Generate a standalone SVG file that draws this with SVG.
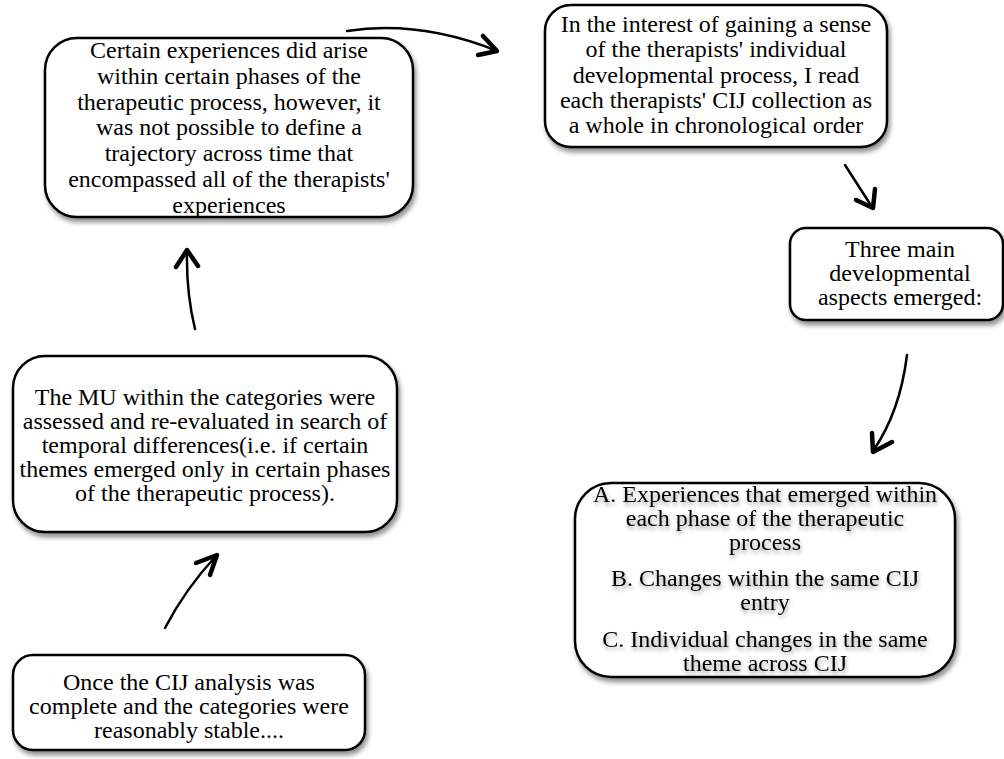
<svg xmlns="http://www.w3.org/2000/svg" width="1004" height="759" viewBox="0 0 1004 759">
<defs>
<filter id="sh" x="-10%" y="-10%" width="125%" height="130%">
<feGaussianBlur in="SourceAlpha" stdDeviation="2.5"/>
<feOffset dx="2" dy="4" result="b"/>
<feComponentTransfer><feFuncA type="linear" slope="0.45"/></feComponentTransfer>
<feMerge><feMergeNode/><feMergeNode in="SourceGraphic"/></feMerge>
</filter>
<filter id="tsh" x="-5%" y="-20%" width="110%" height="150%">
<feGaussianBlur in="SourceAlpha" stdDeviation="2"/>
<feOffset dx="1" dy="3" result="b"/>
<feComponentTransfer><feFuncA type="linear" slope="0.4"/></feComponentTransfer>
<feMerge><feMergeNode/><feMergeNode in="SourceGraphic"/></feMerge>
</filter>
</defs>
<style>
.box{fill:#fff;stroke:#000;stroke-width:2.5;filter:url(#sh)}
.t{font-family:"Liberation Serif","Times New Roman",serif;font-size:24px;fill:#000;text-anchor:middle}
.ln{fill:none;stroke:#000;stroke-width:2.5;stroke-linecap:round}
.hd{fill:none;stroke:#000;stroke-width:4.5;stroke-linecap:round;stroke-linejoin:round}
</style>
<rect width="1004" height="759" fill="#fff"/>
<g id="connectors">
<path class="ln" d="M347,31 Q420,20 497,51"/>
<path class="hd" d="M483,36 L497,51 L478,55"/>
<path class="ln" d="M845,165 L872,207"/>
<path class="hd" d="M875,189 L873,208 L856,200"/>
<path class="ln" d="M907,355 Q900,412 873,451"/>
<path class="hd" d="M872,433 L873,452 L892,442"/>
<path class="ln" d="M195,329 Q186,292 187,250"/>
<path class="hd" d="M176,267 L187,250 L198,266"/>
<path class="ln" d="M165,628 Q186,588 216,556"/>
<path class="hd" d="M196,563 L217,555 L210,575"/>
</g>
<g id="node-certain">
<rect class="box" x="45" y="38" width="368" height="179" rx="32"/>
<text class="t"><tspan x="229" y="58">Certain experiences did arise</tspan><tspan x="229" y="84">within certain phases of the</tspan><tspan x="229" y="110">therapeutic process, however, it</tspan><tspan x="229" y="135">was not possible to define a</tspan><tspan x="229" y="161">trajectory across time that</tspan><tspan x="229" y="187">encompassed all of the therapists'</tspan><tspan x="229" y="213">experiences</tspan></text>
</g>
<g id="node-interest">
<rect class="box" x="545" y="5" width="342" height="142" rx="26"/>
<text class="t"><tspan x="716" y="32">In the interest of gaining a sense</tspan><tspan x="716" y="57">of the therapists' individual</tspan><tspan x="716" y="83">developmental process, I read</tspan><tspan x="716" y="108">each therapists' CIJ collection as</tspan><tspan x="716" y="133">a whole in chronological order</tspan></text>
</g>
<g id="node-three">
<rect class="box" x="790" y="228" width="213" height="92" rx="16"/>
<text class="t"><tspan x="900" y="257">Three main</tspan><tspan x="900" y="281">developmental</tspan><tspan x="900" y="305">aspects emerged:</tspan></text>
</g>
<g id="node-aspects">
<rect class="box" x="575" y="483" width="380" height="194" rx="36"/>
<text class="t" filter="url(#tsh)"><tspan x="765" y="502">A. Experiences that emerged within</tspan><tspan x="765" y="526">each phase of the therapeutic</tspan><tspan x="765" y="550">process</tspan><tspan x="765" y="586">B. Changes within the same CIJ</tspan><tspan x="765" y="610">entry</tspan><tspan x="765" y="647">C. Individual changes in the same</tspan><tspan x="765" y="671">theme across CIJ</tspan></text>
</g>
<g id="node-mu">
<rect class="box" x="13" y="356" width="384" height="176" rx="32"/>
<text class="t"><tspan x="205" y="405">The MU within the categories were</tspan><tspan x="205" y="429">assessed and re-evaluated in search of</tspan><tspan x="205" y="453">temporal differences(i.e. if certain</tspan><tspan x="205" y="477">themes emerged only in certain phases</tspan><tspan x="205" y="501">of the therapeutic process).</tspan></text>
</g>
<g id="node-once">
<rect class="box" x="13" y="655" width="352" height="95" rx="20"/>
<text class="t"><tspan x="189" y="690">Once the CIJ analysis was</tspan><tspan x="189" y="714">complete and the categories were</tspan><tspan x="189" y="738">reasonably stable....</tspan></text>
</g>
</svg>
